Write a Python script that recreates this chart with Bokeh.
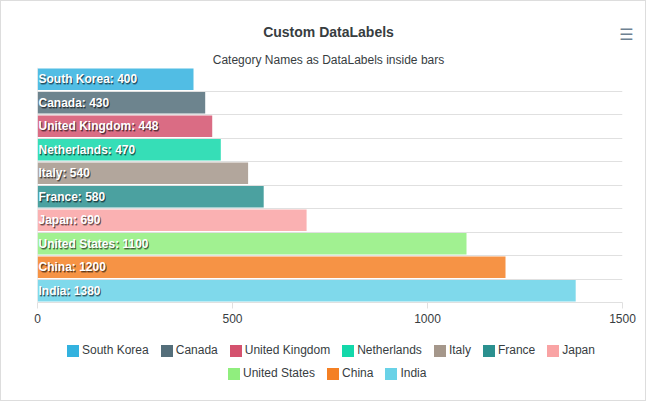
import numpy as np
from bokeh.plotting import figure
from bokeh.layouts import column
from bokeh.models import ColumnDataSource, Range1d, FixedTicker, Span, Label, Legend, LegendItem
from bokeh.core.properties import value
from bokeh.embed import file_html
from bokeh.resources import INLINE

# ---- data ----
countries = ["South Korea", "Canada", "United Kingdom", "Netherlands", "Italy",
             "France", "Japan", "United States", "China", "India"]
values = [400, 430, 448, 470, 540, 580, 690, 1100, 1200, 1380]
colors = ["#33b2df", "#546e7a", "#d4526e", "#13d8aa", "#a5978b",
          "#2b908f", "#f9a3a4", "#90ee7e", "#f48024", "#69d2e7"]
x_ticks = [0, 500, 1000, 1500]
title_text = "Custom DataLabels"
subtitle_text = "Category Names as DataLabels inside bars"

FONT = "Liberation Sans"
TEXT = "#373d3f"
GRID = "#e0e0e0"
W = 644

def blank(height):
    f = figure(width=W, height=height, output_backend="svg", toolbar_location=None,
               x_range=Range1d(0, 1), y_range=Range1d(0, 1), min_border=0,
               x_axis_location=None, y_axis_location=None)
    f.grid.visible = False
    f.outline_line_color = None
    f.frame_align = False
    return f

# ---- header ----
head = blank(66)
head.add_layout(Label(x=327, y=35.3, x_units="screen", y_units="screen", text=title_text,
                      text_align="center", text_baseline="middle", text_font=FONT,
                      text_font_style="bold", text_font_size="14px", text_color=TEXT))
head.add_layout(Label(x=327, y=7.6, x_units="screen", y_units="screen", text=subtitle_text,
                      text_align="center", text_baseline="middle", text_font=FONT,
                      text_font_size="12px", text_color=TEXT))
head.add_layout(Label(x=625, y=32.7, x_units="screen", y_units="screen", text="\u2630",
                      text_align="center", text_baseline="middle", text_font="DejaVu Sans",
                      text_font_size="16px", text_color="#6e8192"))

# ---- main chart ----
n = len(countries)
pos = [n - 1 - i + 0.5 for i in range(n)]
labels = [f"{c}: {v}" for c, v in zip(countries, values)]
src = ColumnDataSource(dict(y=pos, right=values, color=colors, label=labels))

p = figure(width=W, height=265, output_backend="svg", toolbar_location=None,
           x_range=Range1d(x_ticks[0], x_ticks[-1]), y_range=Range1d(0, n),
           y_axis_location=None,
           min_border_left=36, min_border_right=23, min_border_top=0, min_border_bottom=30)
p.outline_line_color = None
p.xgrid.visible = False
p.ygrid.ticker = FixedTicker(ticks=list(range(n + 1)))
p.ygrid.grid_line_color = GRID

xa = p.xaxis[0]
xa.ticker = FixedTicker(ticks=x_ticks)
xa.axis_line_color = GRID
xa.major_tick_line_color = GRID
xa.major_tick_in = 0
xa.major_tick_out = 6
xa.minor_tick_line_color = None
xa.major_label_text_font = FONT
xa.major_label_text_font_size = "12px"
xa.major_label_text_color = TEXT
xa.major_label_standoff = 5

p.add_layout(Span(location=0, dimension="height", line_color=GRID, line_width=1))

p.hbar(y="y", right="right", left=0, height=0.92, fill_color="color", fill_alpha=0.85,
       line_color=None, source=src)

# data labels with a soft shadow
label_style = dict(text_font=value(FONT), text_font_style="bold", text_font_size="12px",
                   text_baseline="middle", source=src)
p.text(x=0, y="y", text="label", x_offset=2, y_offset=2, text_color="#000000",
       text_alpha=0.25, **label_style)
p.text(x=0, y="y", text="label", x_offset=2, y_offset=1, text_color="#000000",
       text_alpha=0.5, **label_style)
p.text(x=0, y="y", text="label", x_offset=1, y_offset=0, text_color="#ffffff", **label_style)

# ---- legend footer ----
foot = blank(68)
leg_src = ColumnDataSource(dict(y=[np.nan] * n, right=[np.nan] * n, color=colors))
proxy = foot.hbar(y="y", right="right", height=1, fill_color="color", line_color=None,
                  source=leg_src)

def make_legend(idx, loc):
    items = [LegendItem(label=countries[i], renderers=[proxy], index=i) for i in idx]
    return Legend(items=items, orientation="horizontal", location=loc,
                  glyph_width=15, glyph_height=15, label_standoff=2, spacing=10,
                  padding=0, margin=0, label_height=14, label_width=10,
                  border_line_color=None, background_fill_alpha=0,
                  label_text_font=FONT, label_text_font_size="12px",
                  label_text_color=TEXT)

foot.add_layout(make_legend(range(0, 7), (64, 42.5)))
foot.add_layout(make_legend(range(7, n), (225, 19.5)))

layout = column(head, p, foot, spacing=0)
layout.styles = {"border": "1px solid #dddddd"}

open("out.html", "w").write(file_html(layout, INLINE))
